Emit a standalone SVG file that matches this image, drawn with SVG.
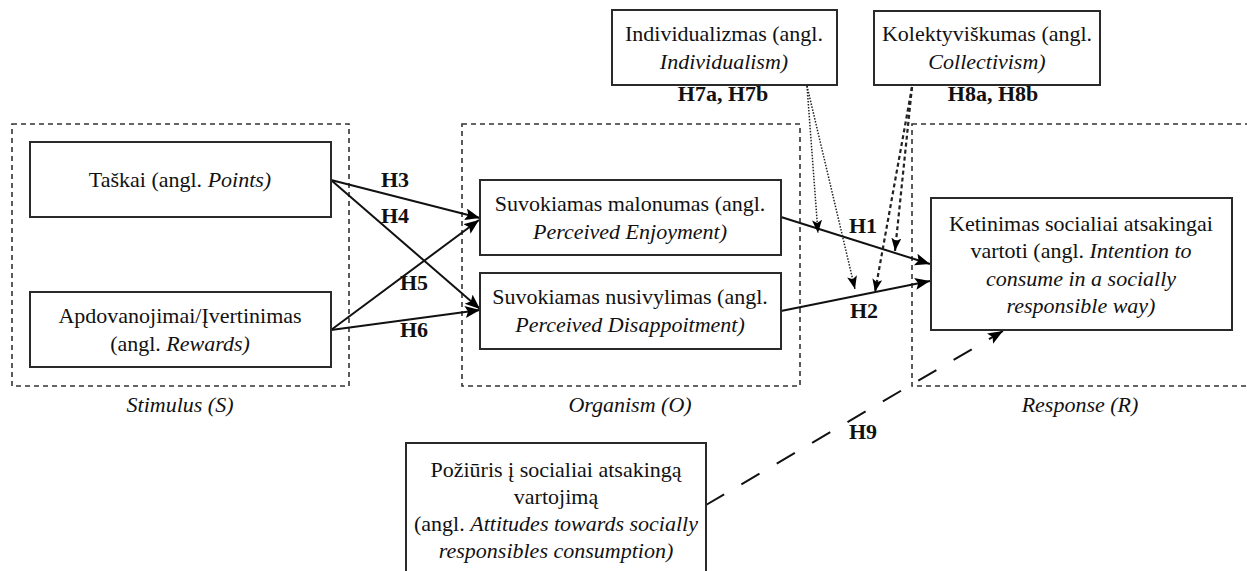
<svg xmlns="http://www.w3.org/2000/svg" width="1247" height="571" viewBox="0 0 1247 571" font-family="'Liberation Serif', Tinos, 'Times New Roman', 'DejaVu Serif', serif">
<style>
.bg{fill:#fff}
.cont{fill:none;stroke:#333;stroke-width:1.6;stroke-dasharray:5 4}
.box{fill:#fff;stroke:#2a2a2a;stroke-width:2}
text{font-family:'Liberation Serif', Tinos, 'Times New Roman', 'DejaVu Serif', serif;font-size:22px;fill:#111}
.c{text-anchor:middle}
.i{font-style:italic}
.b{font-weight:bold}
.arr{fill:none;stroke:#111;stroke-width:2}
.dot{fill:none;stroke:#222;stroke-width:1.5;stroke-dasharray:1.5 1.5}
.dsh{fill:none;stroke:#222;stroke-width:2.2;stroke-dasharray:4 3}
.long{fill:none;stroke:#111;stroke-width:2;stroke-dasharray:21 20}
</style>
<defs>
<marker id="ah" markerUnits="userSpaceOnUse" markerWidth="16" markerHeight="14" refX="15" refY="6" orient="auto">
<path d="M0,0 L15,6 L0,12 L3,6 Z" fill="#000"/>
</marker>
<marker id="ahs" markerUnits="userSpaceOnUse" markerWidth="14" markerHeight="12" refX="13" refY="5" orient="auto">
<path d="M0,0 L13,5 L0,10 L3,5 Z" fill="#000"/>
</marker>
</defs>
<rect class="bg" x="0" y="0" width="1247" height="571"/>

<g id="containers">
<rect class="cont" x="12" y="124" width="337" height="262"/>
<rect class="cont" x="462" y="124" width="338" height="262"/>
<rect class="cont" x="912" y="124" width="360" height="262"/>
<text class="c i" x="180" y="412">Stimulus (S)</text>
<text class="c i" x="630" y="412">Organism (O)</text>
<text class="c i" x="1080" y="412">Response (R)</text>
</g>

<g id="connectors">
<line class="arr" x1="331" y1="180" x2="480" y2="218" marker-end="url(#ah)"/>
<line class="arr" x1="331" y1="180" x2="480" y2="309" marker-end="url(#ah)"/>
<line class="arr" x1="331" y1="330" x2="479" y2="220" marker-end="url(#ah)"/>
<line class="arr" x1="331" y1="330" x2="480" y2="310" marker-end="url(#ah)"/>
<line class="arr" x1="781" y1="217" x2="930" y2="264" marker-end="url(#ah)"/>
<line class="arr" x1="781" y1="311" x2="930" y2="281" marker-end="url(#ah)"/>
<line class="dot" x1="807" y1="86" x2="818" y2="233" marker-end="url(#ahs)"/>
<line class="dot" x1="807" y1="86" x2="855" y2="289" marker-end="url(#ahs)"/>
<line class="dsh" x1="912" y1="87" x2="895" y2="251" marker-end="url(#ahs)"/>
<line class="dsh" x1="912" y1="87" x2="875" y2="292" marker-end="url(#ahs)"/>
<line class="long" x1="706" y1="505" x2="1003" y2="331" marker-end="url(#ah)"/>
<text class="c b" x="395" y="187">H3</text>
<text class="c b" x="395" y="223">H4</text>
<text class="c b" x="414" y="290">H5</text>
<text class="c b" x="414" y="337">H6</text>
<text class="c b" x="863" y="233">H1</text>
<text class="c b" x="864" y="318">H2</text>
<text class="c b" x="863" y="439">H9</text>
<text class="c b" x="723" y="101">H7a, H7b</text>
<text class="c b" x="993" y="101">H8a, H8b</text>
</g>

<g id="n-taskai">
<rect class="box" x="30" y="142" width="301" height="75"/>
<text class="c" x="180" y="187">Taškai (angl. <tspan class="i">Points)</tspan></text>
</g>
<g id="n-apdovanojimai">
<rect class="box" x="30" y="292" width="301" height="75"/>
<text class="c" x="180" y="323">Apdovanojimai/Įvertinimas</text>
<text class="c" x="180" y="351">(angl. <tspan class="i">Rewards)</tspan></text>
</g>
<g id="n-malonumas">
<rect class="box" x="480" y="180" width="301" height="75"/>
<text class="c" x="630" y="211">Suvokiamas malonumas (angl.</text>
<text class="c i" x="630" y="239">Perceived Enjoyment)</text>
</g>
<g id="n-nusivylimas">
<rect class="box" x="480" y="273" width="301" height="76"/>
<text class="c" x="630" y="304">Suvokiamas nusivylimas (angl.</text>
<text class="c i" x="630" y="332">Perceived Disappoitment)</text>
</g>
<g id="n-ketinimas">
<rect class="box" x="931" y="198" width="301" height="132"/>
<text class="c" x="1081" y="231">Ketinimas socialiai atsakingai</text>
<text class="c" x="1081" y="258">vartoti (angl. <tspan class="i">Intention to</tspan></text>
<text class="c i" x="1081" y="286">consume in a socially</text>
<text class="c i" x="1081" y="313">responsible way)</text>
</g>
<g id="n-individualizmas">
<rect class="box" x="612" y="10" width="225" height="75"/>
<text class="c" x="724" y="41">Individualizmas (angl.</text>
<text class="c i" x="724" y="69">Individualism)</text>
</g>
<g id="n-kolektyviskumas">
<rect class="box" x="874" y="11" width="226" height="74"/>
<text class="c" x="987" y="41">Kolektyviškumas (angl.</text>
<text class="c i" x="987" y="69">Collectivism)</text>
</g>
<g id="n-poziuris">
<rect class="box" x="406" y="443" width="300" height="140"/>
<text class="c" x="556" y="477">Požiūris į socialiai atsakingą</text>
<text class="c" x="556" y="504">vartojimą</text>
<text class="c" x="556" y="531">(angl. <tspan class="i">Attitudes towards socially</tspan></text>
<text class="c i" x="556" y="558">responsibles consumption)</text>
</g>
</svg>
